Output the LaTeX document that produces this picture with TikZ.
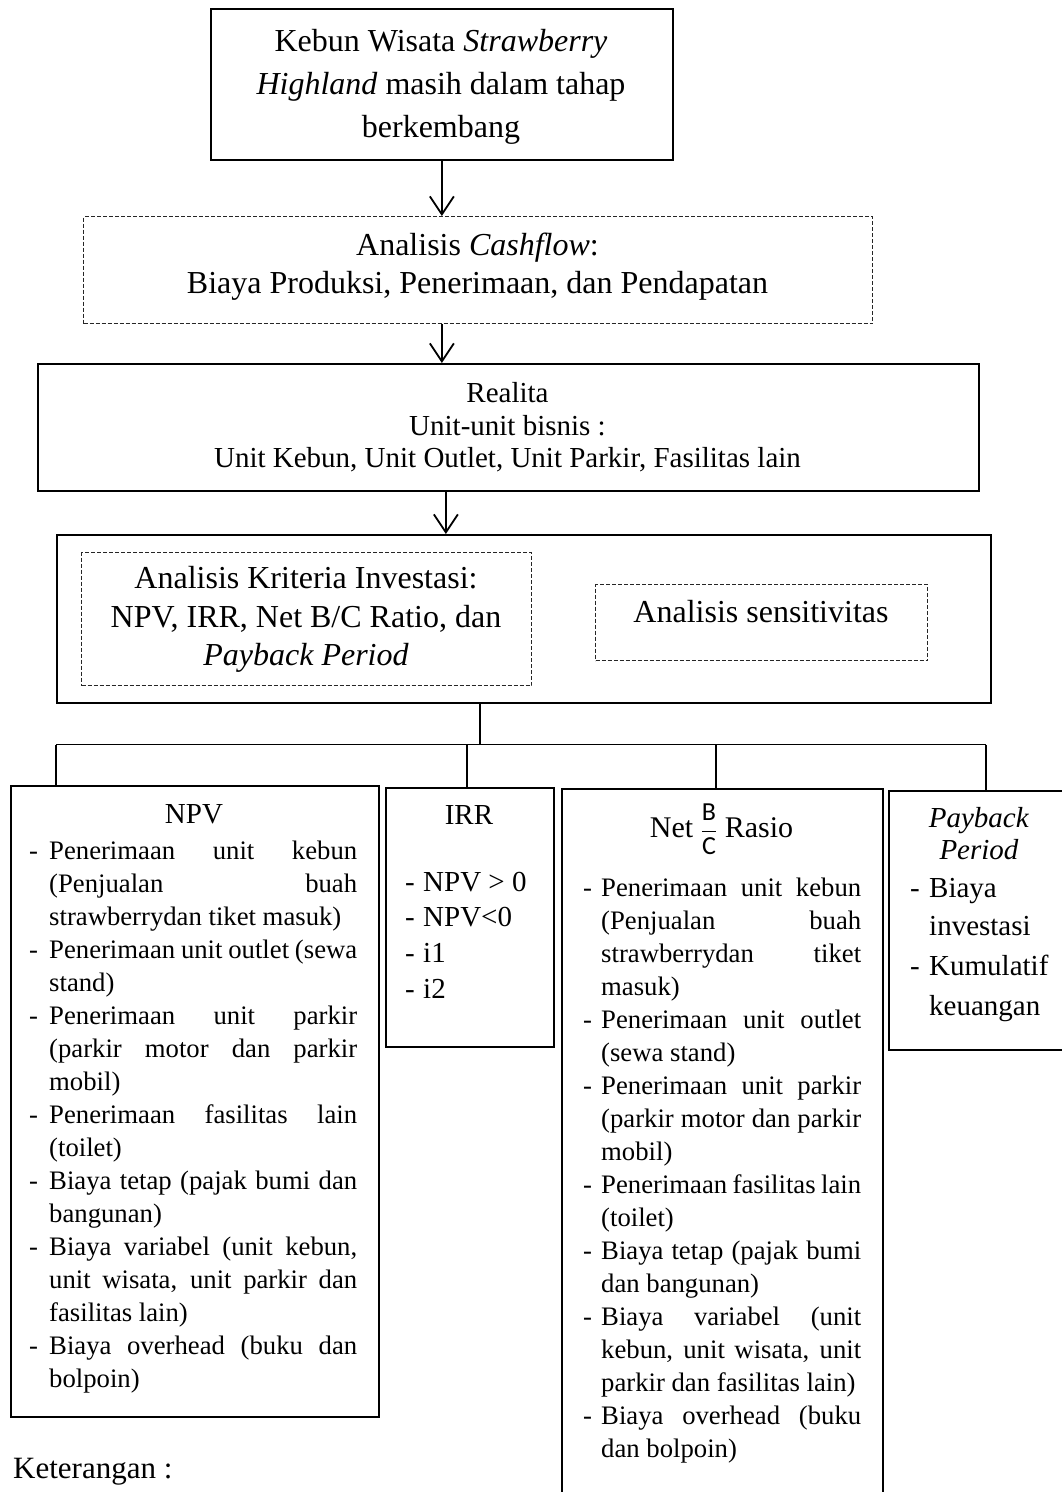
\documentclass[tikz,border=0pt]{standalone}
\usepackage{fontspec}
\setmainfont{Liberation Serif}
\newfontfamily\carlito{Carlito}
\usetikzlibrary{arrows.meta}
\newcommand\Lj[4]{\node[lt] (#1) at (#2) {\makebox[#3][s]{#4}};}
\newcommand\Ln[3]{\node[lt] (#1) at (#2) {#3};}
\begin{document}
\begin{tikzpicture}[x=1pt,y=-1pt,
  box/.style={draw, line width=1.8pt, inner sep=0, anchor=north west},
  dbox/.style={draw=black!85, line width=1pt, dash pattern=on 4pt off 2pt, inner sep=0, anchor=north west},
  conn/.style={line width=1.6pt},
  arr/.style={line width=1.8pt, -{Straight Barb[length=18pt,width=24pt,line width=1.8pt]}},
  ct32/.style={inner sep=0, anchor=base, font=\fontsize{32pt}{38pt}\selectfont},
  ct29/.style={inner sep=0, anchor=base, font=\fontsize{29pt}{33pt}\selectfont},
  ct30/.style={inner sep=0, anchor=base, font=\fontsize{30pt}{34pt}\selectfont},
  lt/.style={inner sep=0, anchor=base west, font=\fontsize{26.7pt}{33pt}\selectfont},
  lt29/.style={inner sep=0, anchor=base west, font=\fontsize{29pt}{33pt}\selectfont},
]
\useasboundingbox (0,0) rectangle (1062,1492);
\fill[white] (0,0) rectangle (1062,1492);
\clip (0,0) rectangle (1062,1492);

% ---------- boxes ----------
\node[box, minimum width=462pt, minimum height=151pt] (top) at (210,8) {};
\node[dbox, minimum width=789pt, minimum height=107pt] (cash) at (83,216) {};
\node[box, minimum width=941pt, minimum height=127pt] (real) at (37,363) {};
\node[box, minimum width=934pt, minimum height=168pt] (big) at (56,534) {};
\node[dbox, minimum width=450pt, minimum height=133pt] (kri) at (81,552) {};
\node[dbox, minimum width=332pt, minimum height=76pt] (sens) at (595,584) {};
\node[box, minimum width=368pt, minimum height=631pt] (npv) at (10,785) {};
\node[box, minimum width=168pt, minimum height=259pt] (irr) at (385,787) {};
\node[box, minimum width=321pt, minimum height=720pt] (net) at (561,788) {};
\node[box, minimum width=190pt, minimum height=259pt] (pb) at (888,790) {};

% ---------- texts: top ----------
\node[ct32] (t1) at (441,51) {Kebun Wisata \textit{Strawberry}};
\node[ct32] (t2) at (441,94) {\textit{Highland} masih dalam tahap};
\node[ct32] (t3) at (441,137) {berkembang};

\node[ct32] (c1) at (477.5,255) {Analisis \textit{Cashflow}:};
\node[ct32] (c2) at (477.5,293) {Biaya Produksi, Penerimaan, dan Pendapatan};

\node[ct29] (r1) at (507.5,402) {Realita};
\node[ct29] (r2) at (507.5,435) {Unit-unit bisnis :};
\node[ct29] (r3) at (507.5,467) {Unit Kebun, Unit Outlet, Unit Parkir, Fasilitas lain};

\node[ct32] (k1) at (306,588) {Analisis Kriteria Investasi:};
\node[ct32] (k2) at (306,627) {NPV, IRR, Net B/C Ratio, dan};
\node[ct32] (k3) at (306,665) {\textit{Payback Period}};
\node[ct32] (s1) at (761,622) {Analisis sensitivitas};

% ---------- connectors ----------
\draw[arr] (top.south) -- (top.south |- cash.north);
\draw[arr] (top.south |- cash.south) -- (top.south |- real.north);
\draw[arr] ([xshift=4pt]top.south |- real.south) -- ([xshift=4pt]top.south |- big.north);
\coordinate (hub) at (480,744.5);
\coordinate (d1) at (56,744.5);
\coordinate (d2) at (467,744.5);
\coordinate (d3) at (716,744.5);
\coordinate (d4) at (986,744.5);
\draw[conn] (hub |- big.south) -- (hub);
\draw[conn] (d1) -- (d4);
\draw[conn] (d1) -- (d1 |- npv.north);
\draw[conn] (d2) -- (d2 |- irr.north);
\draw[conn] (d3) -- (d3 |- net.north);
\draw[conn] (d4) -- (d4 |- pb.north);

% ---------- NPV ----------
\node[ct29] (npvh) at (194,823) {NPV};
\Ln{nd1}{29,859}{-}
\Lj{n1}{49,859}{308pt}{Penerimaan unit kebun}
\Lj{n2}{49,892}{308pt}{(Penjualan buah}
\Ln{n3}{49,925}{strawberrydan tiket masuk)}
\Ln{nd4}{29,958}{-}
\Lj{n4}{49,958}{308pt}{Penerimaan unit outlet (sewa}
\Ln{n5}{49,991}{stand)}
\Ln{nd6}{29,1024}{-}
\Lj{n6}{49,1024}{308pt}{Penerimaan unit parkir}
\Lj{n7}{49,1057}{308pt}{(parkir motor dan parkir}
\Ln{n8}{49,1090}{mobil)}
\Ln{nd9}{29,1123}{-}
\Lj{n9}{49,1123}{308pt}{Penerimaan fasilitas lain}
\Ln{n10}{49,1156}{(toilet)}
\Ln{nd11}{29,1189}{-}
\Lj{n11}{49,1189}{308pt}{Biaya tetap (pajak bumi dan}
\Ln{n12}{49,1222}{bangunan)}
\Ln{nd13}{29,1255}{-}
\Lj{n13}{49,1255}{308pt}{Biaya variabel (unit kebun,}
\Lj{n14}{49,1288}{308pt}{unit wisata, unit parkir dan}
\Ln{n15}{49,1321}{fasilitas lain)}
\Ln{nd16}{29,1354}{-}
\Lj{n16}{49,1354}{308pt}{Biaya overhead (buku dan}
\Ln{n17}{49,1387}{bolpoin)}

% ---------- IRR ----------
\node[ct29] (irrh) at (469,824) {IRR};
\node[lt29] (id1) at (405,891) {-};
\node[lt29] (i1) at (423,891) {NPV > 0};
\node[lt29] (id2) at (405,926) {-};
\node[lt29] (i2) at (423,926) {NPV<0};
\node[lt29] (id3) at (405,962) {-};
\node[lt29] (i3) at (423,962) {i1};
\node[lt29] (id4) at (405,998) {-};
\node[lt29] (i4) at (423,998) {i2};

% ---------- Net B/C ----------
\node[ct30] (neth) at (721.5,837) {Net \(\displaystyle\frac{\mbox{\carlito\fontsize{26pt}{26pt}\selectfont B}}{\mbox{\carlito\fontsize{26pt}{26pt}\selectfont C}}\) Rasio};
\Ln{bd1}{583,896}{-}
\Lj{b1}{601,896}{260pt}{Penerimaan unit kebun}
\Lj{b2}{601,929}{260pt}{(Penjualan buah}
\Lj{b3}{601,962}{260pt}{strawberrydan tiket}
\Ln{b4}{601,995}{masuk)}
\Ln{bd5}{583,1028}{-}
\Lj{b5}{601,1028}{260pt}{Penerimaan unit outlet}
\Ln{b6}{601,1061}{(sewa stand)}
\Ln{bd7}{583,1094}{-}
\Lj{b7}{601,1094}{260pt}{Penerimaan unit parkir}
\Lj{b8}{601,1127}{260pt}{(parkir motor dan parkir}
\Ln{b9}{601,1160}{mobil)}
\Ln{bd10}{583,1193}{-}
\Lj{b10}{601,1193}{260pt}{Penerimaan fasilitas lain}
\Ln{b11}{601,1226}{(toilet)}
\Ln{bd12}{583,1259}{-}
\Lj{b12}{601,1259}{260pt}{Biaya tetap (pajak bumi}
\Ln{b13}{601,1292}{dan bangunan)}
\Ln{bd14}{583,1325}{-}
\Lj{b14}{601,1325}{260pt}{Biaya variabel (unit}
\Lj{b15}{601,1358}{260pt}{kebun, unit wisata, unit}
\Ln{b16}{601,1391}{parkir dan fasilitas lain)}
\Ln{bd17}{583,1424}{-}
\Lj{b17}{601,1424}{260pt}{Biaya overhead (buku}
\Ln{b18}{601,1457}{dan bolpoin)}

% ---------- Payback ----------
\node[ct29] (pbh1) at (979,827) {\textit{Payback}};
\node[ct29] (pbh2) at (979,859) {\textit{Period}};
\node[lt29] (pd1) at (910,897) {-};
\node[lt29] (p1) at (929,897) {Biaya};
\node[lt29] (p2) at (929,935) {investasi};
\node[lt29] (pd3) at (910,975) {-};
\node[lt29] (p3) at (929,975) {Kumulatif};
\node[lt29] (p4) at (929,1015) {keuangan};

% ---------- Keterangan ----------
\node[inner sep=0, anchor=base west, font=\fontsize{31pt}{36pt}\selectfont] (ket) at (13,1478) {Keterangan :};
\end{tikzpicture}
\end{document}
